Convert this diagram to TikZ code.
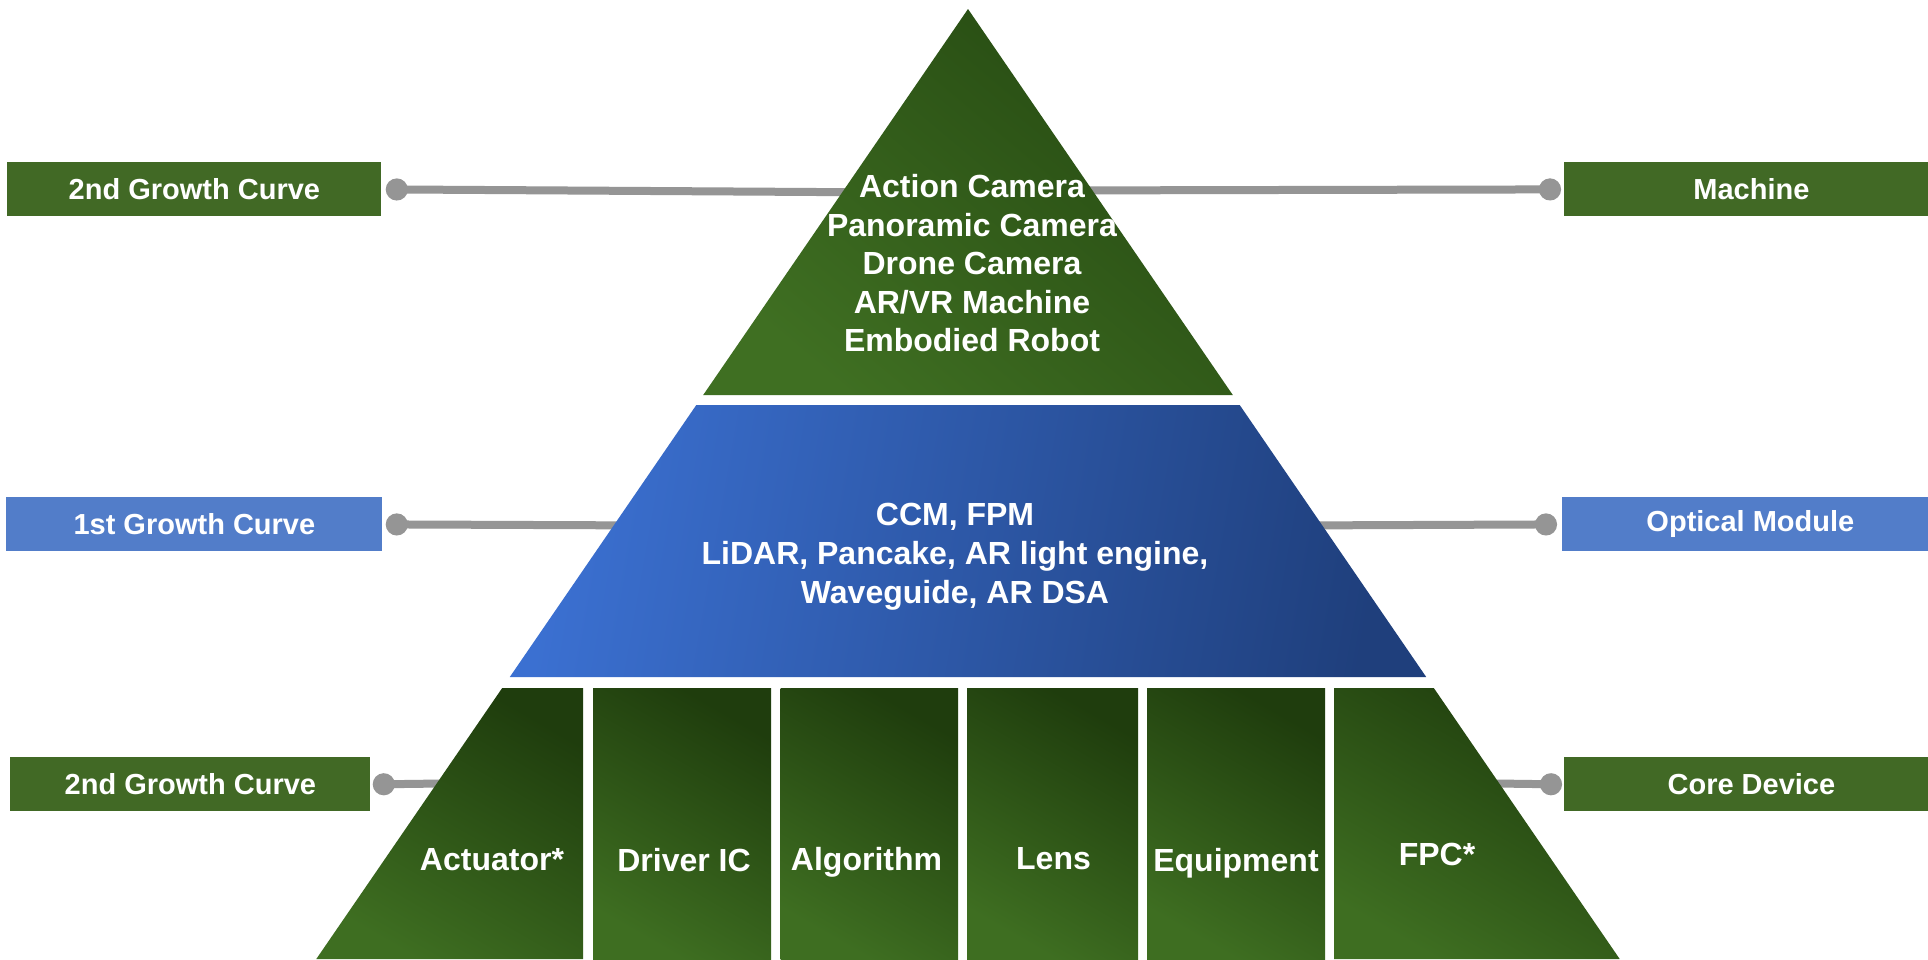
\documentclass[tikz,border=0pt]{standalone}
\usepackage{fontspec}
\setmainfont{Liberation Sans}
\usetikzlibrary{arrows.meta}

\definecolor{labelgreen}{HTML}{416925}
\definecolor{labelblue}{HTML}{527DC9}
\definecolor{linkgray}{HTML}{959595}
\definecolor{greendark}{HTML}{264A12}
\definecolor{greenlight}{HTML}{3F6F22}
\definecolor{coldark}{HTML}{1F3D0D}
\definecolor{collight}{HTML}{3E6E21}
\definecolor{bluelight}{HTML}{3B70D1}
\definecolor{bluedark}{HTML}{1F3F7C}

\tikzset{
  sidelabel/.style={rectangle, inner sep=0pt, minimum height=27pt, text=white,
    font=\bfseries\fontsize{14.5}{17}\selectfont},
  greenlabel/.style={sidelabel, fill=labelgreen},
  bluelabel/.style={sidelabel, fill=labelblue},
  link/.style={draw=linkgray, line width=4pt, {Circle[length=11pt,width=11pt]}-},
  greentier/.style={top color=greendark, bottom color=greenlight, shading angle=-40},
  coltier/.style={top color=coldark, bottom color=collight, shading angle=-30},
  bluetier/.style={left color=bluelight, right color=bluedark, shading angle=80},
  tiertext/.style={text=white, inner sep=0pt, align=center,
    font=\bfseries\fontsize{16}{19.25}\selectfont},
  coltext/.style={text=white, inner sep=0pt, anchor=base,
    font=\bfseries\fontsize{16}{19}\selectfont}
}

\begin{document}
\begin{tikzpicture}[x=0.5pt, y=-0.5pt]
\useasboundingbox[fill=white] (0,0) rectangle (1928,959);

% side labels (the right-hand ones run past the page edge)
\node[greenlabel, anchor=north west, minimum width=187pt] (lblTL) at (7,162) {2nd Growth Curve};
\node[greenlabel, anchor=north west, minimum width=187pt] (lblTR) at (1564,162) {Machine};
\node[bluelabel,  anchor=north west, minimum width=188pt] (lblML) at (6,497) {1st Growth Curve};
\node[bluelabel,  anchor=north west, minimum width=188pt] (lblMR) at (1562,497) {Optical Module};
\node[greenlabel, anchor=north west, minimum width=180pt] (lblBL) at (10,757) {2nd Growth Curve};
\node[greenlabel, anchor=north west, minimum width=187pt] (lblBR) at (1564,757) {Core Device};

% connector ends, hidden under the pyramid tiers
\coordinate (endTL) at (900,192.5);
\coordinate (endTR) at (1040,190.5);
\coordinate (endML) at (660,525.5);
\coordinate (endMR) at (1290,525.5);
\coordinate (endBL) at (480,783);
\coordinate (endBR) at (1460,783);

% connectors with round ends at the labels
\draw[link] ([xshift=2pt]lblTL.east) -- (endTL);
\draw[link] ([xshift=-1.5pt]lblTR.west) -- (endTR);
\draw[link] ([xshift=1.5pt]lblML.east) -- (endML);
\draw[link] ([xshift=-2.5pt]lblMR.west) -- (endMR);
\draw[link] ([xshift=1pt]lblBL.east) -- (endBL);
\draw[link] ([xshift=-1pt]lblBR.west) -- (endBR);

% top tier
\shade[greentier] (968,9) -- (1232.8,395) -- (703.2,395) -- cycle;
\node[tiertext] (topText) at (972,263.5)
  {Action Camera\\Panoramic Camera\\Drone Camera\\AR/VR Machine\\Embodied Robot};

% middle tier
\shade[bluetier] (696.3,405) -- (1239.7,405) -- (1426.2,677) -- (509.8,677) -- cycle;
\node[tiertext, font=\bfseries\fontsize{16}{19.5}\selectfont] (midText) at (955,556.5)
  {CCM, FPM\\LiDAR, Pancake, AR light engine,\\Waveguide, AR DSA};

% bottom tier columns
\shade[coltier] (502.2,688) -- (583,688) -- (583,959) -- (316.3,959) -- cycle;
\shade[coltier] (593,688) rectangle (771,959);
\shade[coltier] (780.5,688) rectangle (958,959);
\shade[coltier] (967,688) rectangle (1138,959);
\shade[coltier] (1147,688) rectangle (1325,959);
\shade[coltier] (1334,688) -- (1433.8,688) -- (1619.7,959) -- (1334,959) -- cycle;

\node[coltext] (colA) at (492,870) {Actuator*};
\node[coltext] (colB) at (684,871) {Driver IC};
\node[coltext] (colC) at (866.5,870) {Algorithm};
\node[coltext] (colD) at (1053.5,869) {Lens};
\node[coltext] (colE) at (1236,871) {Equipment};
\node[coltext] (colF) at (1437,865) {FPC*};
\end{tikzpicture}
\end{document}
